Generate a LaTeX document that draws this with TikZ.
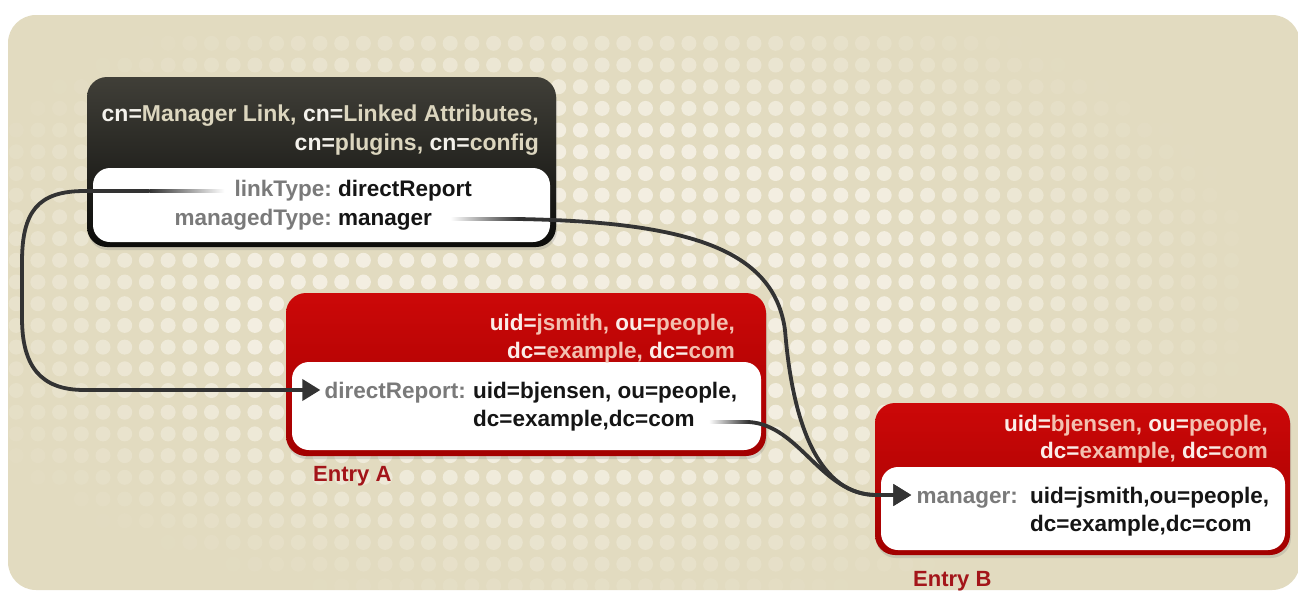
\documentclass[tikz,border=0pt]{standalone}
\usepackage{fontspec}
\setmainfont{Liberation Sans}
\usetikzlibrary{arrows.meta,shadows,calc}
\definecolor{bg}{HTML}{E2DBC0}
\definecolor{dotc}{HTML}{F4F0E3}
\definecolor{darktop}{HTML}{403F38}
\definecolor{darkbot}{HTML}{0C0C0A}
\definecolor{redtop}{HTML}{CC0808}
\definecolor{redbot}{HTML}{A20000}
\definecolor{conn}{HTML}{333333}
\definecolor{keyc}{HTML}{7A7A7A}
\definecolor{valc}{HTML}{151515}
\definecolor{ttlkey}{HTML}{F4F2EC}
\definecolor{ttlval}{HTML}{DCD6BF}
\definecolor{redkey}{HTML}{FBEDE8}
\definecolor{redval}{HTML}{F3C0B0}
\definecolor{entryc}{HTML}{A3151A}
\newcommand\cfgk[1]{\textcolor{ttlkey}{#1}}
\newcommand\cfgv[1]{\textcolor{ttlval}{#1}}
\newcommand\redk[1]{\textcolor{redkey}{#1}}
\newcommand\redv[1]{\textcolor{redval}{#1}}
\begin{document}
\begin{tikzpicture}[x=1pt,y=-1pt,
  txt/.style={inner sep=0pt, font=\fontsize{22.5}{28.5}\selectfont\bfseries},
  keytxt/.style={txt, text=keyc, anchor=base east},
  valtxt/.style={txt, text=valc, anchor=base west},
  hdrtxt/.style={txt, anchor=base east},
  ttltxt/.style={hdrtxt, font=\fontsize{23}{29}\selectfont\bfseries},
  entrytxt/.style={inner sep=0pt, anchor=base west, text=entryc, font=\fontsize{22}{26}\selectfont\bfseries},
  darkbox/.style={rounded corners=20pt, top color=darktop, bottom color=darkbot, inner sep=0pt,
    drop shadow={opacity=0.25, shadow xshift=1pt, shadow yshift=-3pt}},
  redbox/.style={rounded corners=20pt, top color=redtop, bottom color=redbot, inner sep=0pt,
    drop shadow={opacity=0.25, shadow xshift=1pt, shadow yshift=-3pt}},
  innerbox/.style={rounded corners=17pt, fill=white, inner sep=0pt},
  connline/.style={draw=conn, line width=3.8pt},
  tipped/.style={connline, -{Triangle[length=18pt,width=21pt]}},
]
\useasboundingbox (0,0) rectangle (1298,590);
\fill[white] (0,0) rectangle (1298,590);
\path[fill=bg, rounded corners=28pt] (8,15) rectangle (1300,590);
% halftone dots
\begin{scope}
\clip[rounded corners=28pt] (8,15) rectangle (1300,590);
\foreach \i in {0,...,56} {
  \foreach \j in {0,...,25} {
    \pgfmathsetmacro\px{16.2+21.7*\i}
    \pgfmathsetmacro\py{43.3+21.7*\j}
    \pgfmathsetmacro\op{max(0,min(0.95,1.9*(1-sqrt(((\px-580)/690)^2+((\py-290)/330)^2))))}
    \fill[dotc, opacity=\op] (\px,\py) circle (7.5pt);
  }
}
\end{scope}

% boxes
\node[darkbox, minimum width=469pt, minimum height=170pt] (cfg) at (321.5,162) {};
\node[innerbox, minimum width=457pt, minimum height=74pt] (cfgin) at (321.5,205) {};
\node[redbox, minimum width=480pt, minimum height=163pt] (ea) at (526,374.5) {};
\node[innerbox, minimum width=469pt, minimum height=88pt] (eain) at (526.5,406) {};
\node[redbox, minimum width=415pt, minimum height=152pt] (eb) at (1082.5,479) {};
\node[innerbox, minimum width=404pt, minimum height=83pt] (ebin) at (1083,508.5) {};

% config texts
\node[ttltxt] (cfgt1) at (539,121) {\cfgk{cn=}\cfgv{Manager Link, }\cfgk{cn=}\cfgv{Linked Attributes,}};
\node[ttltxt] (cfgt2) at (539,150) {\cfgk{cn=}\cfgv{plugins, }\cfgk{cn=}\cfgv{config}};
\node[keytxt] (ltk) at (332,196) {linkType:};
\node[valtxt] (ltv) at (338,196) {directReport};
\node[keytxt] (mtk) at (332,225) {managedType:};
\node[valtxt] (mtv) at (338,225) {manager};

% entry A texts
\node[hdrtxt] (eat1) at (735,330) {\redk{uid=}\redv{jsmith, }\redk{ou=}\redv{people,}};
\node[hdrtxt] (eat2) at (735,358) {\redk{dc=}\redv{example, }\redk{dc=}\redv{com}};
\node[keytxt] (drk) at (466,398) {directReport:};
\node[valtxt] (drv1) at (473,398) {uid=bjensen, ou=people,};
\node[valtxt] (drv2) at (473,426) {dc=example,dc=com};
\node[entrytxt] (lbla) at (313,481) {Entry A};

% entry B texts
\node[hdrtxt] (ebt1) at (1268,431) {\redk{uid=}\redv{bjensen, }\redk{ou=}\redv{people,}};
\node[hdrtxt] (ebt2) at (1268,458) {\redk{dc=}\redv{example, }\redk{dc=}\redv{com}};
\node[keytxt] (mgk) at (1018,503) {manager:};
\node[valtxt] (mgv1) at (1030,503) {uid=jsmith,ou=people,};
\node[valtxt] (mgv2) at (1030,531) {dc=example,dc=com};
\node[entrytxt] (lblb) at (913,586) {Entry B};

% connector anchor points
\coordinate (ta) at ($(drk.base west)+(-4,-8)$);
\coordinate (tb) at ($(mgk.base west)+(-5,-8)$);
\coordinate (c1s) at ($(ltk.base west)+(-10,-5)$);
\coordinate (c1m) at ($(c1s)+(-75,0)$);
\coordinate (c2s) at ($(mtv.base east)+(18,-6)$);
\coordinate (c2m) at ($(c2s)+(68,0)$);
\coordinate (c3s) at ($(drv2.base east)+(14,-4)$);
\coordinate (c3m) at ($(c3s)+(40,0)$);

% fading starts of connectors
\shade[left color=conn, right color=white] ($(c1m)+(0,-1.9)$) rectangle ($(c1s)+(0,1.9)$);
\shade[left color=white, right color=conn] ($(c2s)+(0,-1.9)$) rectangle ($(c2m)+(0,1.9)$);
\shade[left color=white, right color=conn] ($(c3s)+(0,-1.9)$) rectangle ($(c3m)+(0,1.9)$);

% connectors
\draw[tipped] (c1m) -- ($(c1m)+(-65,0)$)
  .. controls ($(c1m)+(-112,0)$) and (22,212) .. (22,262) -- (22,318)
  .. controls (22,366) and ($(ta)+(-280,0)$) .. ($(ta)+(-236,0)$) -- (ta);
\draw[tipped] (c2m) .. controls (690,222) and (774,250) .. (785,330)
  .. controls (793,430) and ($(tb)+(-90,0)$) .. ($(tb)+(-35,0)$) -- (tb);
\draw[tipped] (c3m) .. controls (800,425) and ($(tb)+(-90,0)$) .. ($(tb)+(-35,0)$) -- (tb);
\end{tikzpicture}
\end{document}
